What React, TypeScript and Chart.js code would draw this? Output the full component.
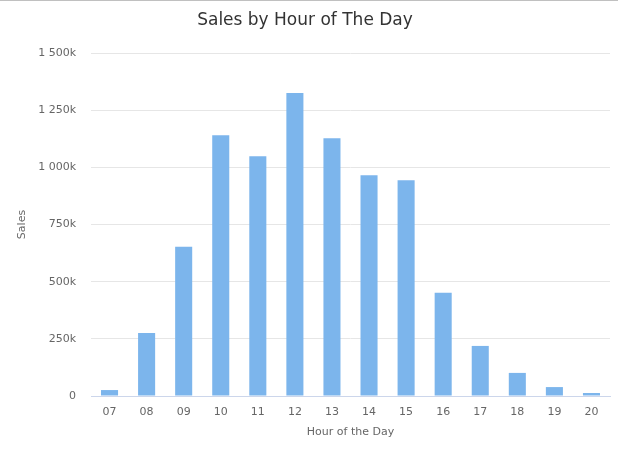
import React, { useEffect, useRef } from "react";
import { Chart, registerables } from "chart.js";

Chart.register(...registerables);

const hours = ["07", "08", "09", "10", "11", "12", "13", "14", "15", "16", "17", "18", "19", "20"];
const sales = [26000, 276000, 653000, 1140000, 1048000, 1325000, 1127000, 965000, 943000, 452000, 219000, 101000, 39000, 13000];
const yMax = 1500000;
const yStep = 250000;
const chartTitle = "Sales by Hour of The Day";
const xTitle = "Hour of the Day";
const yTitle = "Sales";

const FONT = "'DejaVu Sans', sans-serif";

function fmtK(v: number): string {
  if (v === 0) return "0";
  const k = Math.round(v / 1000);
  return k.toString().replace(/\B(?=(\d{3})+(?!\d))/g, " ") + "k";
}

export default function App() {
  const ref = useRef<HTMLCanvasElement | null>(null);
  useEffect(() => {
    document.body.style.margin = "0";
    const canvas = ref.current;
    if (!canvas) return;
    const chart = new Chart(canvas, {
      type: "bar",
      data: {
        labels: hours,
        datasets: [
          {
            label: "Sales",
            data: sales,
            backgroundColor: "#7cb5ec",
            borderWidth: 0,
            categoryPercentage: 1,
            barPercentage: 0.46,
          },
        ],
      },
      options: {
        animation: false,
        responsive: false,
        maintainAspectRatio: false,
        layout: { padding: { left: 0, right: 8, top: 0, bottom: 0 } },
        plugins: {
          legend: { display: false },
          tooltip: { enabled: false },
          title: {
            display: true,
            text: chartTitle,
            color: "#333333",
            font: { family: FONT, size: 17, weight: "normal" },
            padding: { top: 9, bottom: 22.6 },
          },
        },
        scales: {
          x: {
            grid: { display: false, drawTicks: false },
            border: { display: true, color: "#ccd6eb", width: 1 },
            ticks: {
              color: "#666666",
              font: { family: FONT, size: 11 },
              padding: 10,
              maxRotation: 0,
            },
            title: {
              display: true,
              text: xTitle,
              color: "#666666",
              font: { family: FONT, size: 11 },
              padding: { top: 0, bottom: 14 },
            },
            afterFit: (s: any) => {
              s.height = 57;
            },
          },
          y: {
            min: 0,
            max: yMax,
            grid: {
              color: (c: any) => (c.tick && c.tick.value === 0 ? "rgba(0,0,0,0)" : "#e6e6e6"),
              drawTicks: false,
              lineWidth: 1,
            },
            border: { display: false },
            ticks: {
              stepSize: yStep,
              color: "#666666",
              font: { family: FONT, size: 11 },
              padding: 15,
              callback: (v: any) => fmtK(Number(v)),
            },
            title: {
              display: true,
              text: yTitle,
              color: "#666666",
              font: { family: FONT, size: 11 },
              padding: { top: 15.4, bottom: 0 },
            },
            afterFit: (s: any) => {
              s.width = 91;
            },
          },
        },
      },
    });
    return () => chart.destroy();
  }, []);
  return (
    <div style={{ width: 618, height: 453, borderTop: "1px solid #c0c0c0", boxSizing: "border-box", background: "#fff" }}>
      <canvas ref={ref} width={618} height={452} style={{ display: "block", width: 618, height: 452 }} />
    </div>
  );
}
